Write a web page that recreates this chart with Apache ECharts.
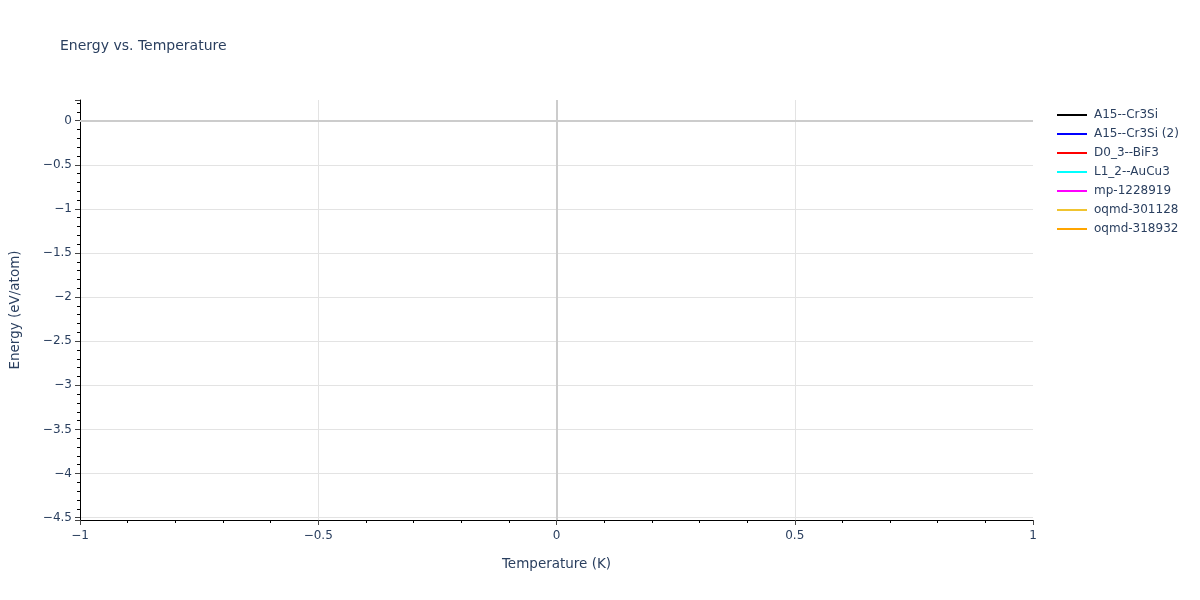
<!DOCTYPE html>
<html>
<head>
<meta charset="utf-8">
<script src="https://cdn.jsdelivr.net/npm/echarts@6/dist/echarts.min.js"></script>
<style>html,body{margin:0;padding:0;background:#fff}#chart{width:1200px;height:600px}</style>
</head>
<body>
<div id="chart"></div>
<script>
// Series (legend) names and colours; the reference plot contains no data points.
const seriesNames = ['A15--Cr3Si', 'A15--Cr3Si (2)', 'D0_3--BiF3', 'L1_2--AuCu3', 'mp-1228919', 'oqmd-301128', 'oqmd-318932'];
const seriesColors = ['#000000', '#0000ff', '#ff0000', '#00ffff', '#ff00ff', '#f0c430', '#ffa500'];
const seriesValues = [[], [], [], [], [], [], []];
// Axis ranges / ticks
const xTicks = [-1, -0.5, 0, 0.5, 1];
const yRange = [-4.527, 0.234];
const xRange = [-1, 1];

const txt = '#2a3f5f';
const font = '"DejaVu Sans", Verdana, sans-serif';

const series = seriesNames.map((name, i) => ({
  name: name,
  type: 'line',
  data: seriesValues[i],
  symbol: 'none',
  itemStyle: { color: seriesColors[i] },
  lineStyle: { color: seriesColors[i], width: 2 }
}));
series[0].markLine = {
  silent: true,
  symbol: ['none', 'none'],
  label: { show: false },
  animation: false,
  lineStyle: { color: '#cccccc', width: 2, type: 'solid' },
  data: [{ xAxis: 0 }, { yAxis: 0 }]
};

const chart = echarts.init(document.getElementById('chart'));
chart.setOption({
  animation: false,
  backgroundColor: '#ffffff',
  textStyle: { fontFamily: font },
  title: {
    text: 'Energy vs. Temperature',
    left: 60, top: 39, padding: 0,
    textStyle: { fontFamily: font, fontSize: 14, fontWeight: 'normal', color: txt }
  },
  legend: {
    orient: 'vertical',
    left: 1057, top: 108, padding: 0,
    icon: 'rect',
    itemWidth: 30, itemHeight: 2,
    itemGap: 5,
    textStyle: { fontFamily: font, fontSize: 12, color: txt, lineHeight: 14, padding: [0, 0, 0, 2] },
    data: seriesNames
  },
  grid: { left: 80, right: 167, top: 100, bottom: 80, containLabel: false },
  xAxis: {
    type: 'value',
    min: xRange[0], max: xRange[1], interval: 0.5,
    name: 'Temperature (K)', nameLocation: 'middle', nameGap: 37,
    nameTextStyle: { fontFamily: font, fontSize: 13.5, color: txt },
    axisLine: { show: true, onZero: false, lineStyle: { color: '#000', width: 1 } },
    axisTick: { show: true, length: 5, lineStyle: { color: '#444' } },
    minorTick: { show: true, splitNumber: 5, length: 3, lineStyle: { color: '#000' } },
    axisLabel: {
      fontFamily: font, fontSize: 12, color: txt, margin: 10,
      formatter: v => xTicks.indexOf(v) >= 0 ? String(v).replace('-', '\u2212') : ''
    },
    splitLine: { show: true, showMinLine: false, showMaxLine: false, lineStyle: { color: '#e3e3e3', width: 1 } }
  },
  yAxis: {
    type: 'value',
    min: yRange[0], max: yRange[1], splitNumber: 10,
    name: 'Energy (eV/atom)', nameLocation: 'middle', nameGap: 58, nameRotate: 90,
    nameTextStyle: { fontFamily: font, fontSize: 13.5, color: txt },
    axisLine: { show: true, onZero: false, lineStyle: { color: '#000', width: 1 } },
    axisTick: { show: true, length: 5, lineStyle: { color: '#444' } },
    minorTick: { show: true, splitNumber: 5, length: 3, lineStyle: { color: '#000' } },
    axisLabel: {
      fontFamily: font, fontSize: 12, color: txt, margin: 8,
      showMinLabel: false, showMaxLabel: false,
      formatter: v => String(v).replace('-', '\u2212')
    },
    splitLine: { show: true, showMinLine: false, showMaxLine: false, lineStyle: { color: '#e3e3e3', width: 1 } }
  },
  series: series
});
</script>
</body>
</html>
